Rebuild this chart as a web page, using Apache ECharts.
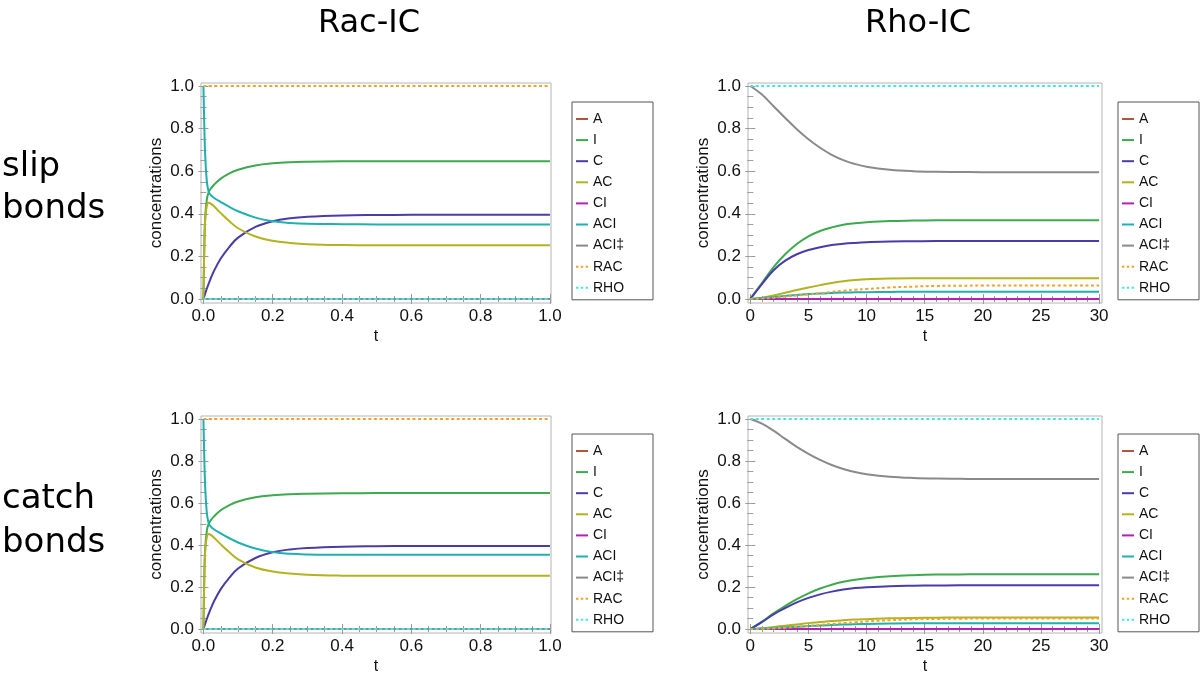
<!DOCTYPE html>
<html><head><meta charset="utf-8">
<script src="https://cdn.jsdelivr.net/npm/echarts@6/dist/echarts.min.js"></script>
<style>html,body{margin:0;padding:0;background:#fff}#c{width:1200px;height:676px}</style>
</head><body><div id="c"></div><script>
// ---- data ----
const seriesNames = ['A','I','C','AC','CI','ACI','ACI\u2021','RAC','RHO'];
const seriesColors = ['#b0563a','#3daa4e','#4a3ca8','#b4b21e','#b521b5','#1fb0b0','#8a8a8a','#f2a42a','#44e6e6'];
const dottedNames = ['RAC','RHO'];

const colTitles = ['Rac-IC','Rho-IC'];
const rowTitles = ['slip\nbonds','catch\nbonds'];

// Rac-IC time samples (t in 0..1)
const tRac = [0,0.002,0.005,0.01,0.015,0.02,0.03,0.05,0.075,0.1,0.15,0.2,0.25,0.3,0.4,0.5,0.6,0.8,1.0];
const tRacFlat = [0,1];
// Rho-IC time samples (t in 0..30)
const tRho = [0,1,2,3,4,5,6,7,8,9,10,12,14,16,18,20,25,30];
const tRhoFlat = [0,30];
const flatZero = [0,0];
const flatOne = [1,1];

// Rac-IC, slip bonds
const racSlipI   = [0,0.2,0.38,0.47,0.5,0.515,0.535,0.565,0.59,0.607,0.627,0.637,0.642,0.644,0.646,0.647,0.647,0.647,0.647];
const racSlipC   = [0,0.01,0.025,0.049,0.071,0.092,0.13,0.19,0.245,0.288,0.338,0.365,0.379,0.386,0.392,0.394,0.395,0.395,0.395];
const racSlipAC  = [0,0.2,0.37,0.44,0.452,0.449,0.436,0.403,0.365,0.332,0.293,0.273,0.263,0.257,0.253,0.252,0.252,0.252,0.252];
const racSlipACI = [1,0.85,0.68,0.55,0.505,0.49,0.475,0.455,0.432,0.412,0.382,0.365,0.357,0.353,0.351,0.35,0.35,0.35,0.35];
// Rac-IC, catch bonds
const racCatchI   = [0,0.2,0.38,0.47,0.5,0.515,0.535,0.565,0.59,0.607,0.627,0.637,0.642,0.644,0.646,0.647,0.647,0.647,0.647];
const racCatchC   = [0,0.01,0.025,0.049,0.071,0.092,0.13,0.19,0.245,0.288,0.338,0.365,0.379,0.386,0.392,0.394,0.395,0.395,0.395];
const racCatchAC  = [0,0.2,0.37,0.44,0.452,0.449,0.436,0.403,0.365,0.332,0.293,0.274,0.264,0.258,0.254,0.253,0.253,0.253,0.253];
const racCatchACI = [1,0.85,0.68,0.55,0.505,0.49,0.475,0.455,0.432,0.412,0.383,0.366,0.358,0.355,0.353,0.353,0.353,0.353,0.353];

// Rho-IC, slip bonds
const rhoSlipI    = [0,0.075,0.15,0.21,0.258,0.294,0.319,0.336,0.348,0.355,0.36,0.366,0.368,0.369,0.37,0.37,0.37,0.37];
const rhoSlipC    = [0,0.07,0.135,0.18,0.21,0.23,0.243,0.253,0.259,0.263,0.266,0.27,0.271,0.272,0.272,0.272,0.272,0.272];
const rhoSlipAC   = [0,0.006,0.016,0.029,0.042,0.054,0.065,0.075,0.083,0.089,0.093,0.096,0.097,0.097,0.097,0.097,0.097,0.097];
const rhoSlipACI  = [0,0.004,0.009,0.014,0.019,0.023,0.026,0.028,0.03,0.031,0.032,0.033,0.034,0.034,0.034,0.034,0.034,0.034];
const rhoSlipACId = [1,0.96,0.905,0.85,0.797,0.75,0.71,0.677,0.652,0.634,0.621,0.607,0.6,0.597,0.596,0.595,0.595,0.595];
const rhoSlipRAC  = [0,0.002,0.006,0.011,0.016,0.021,0.027,0.033,0.038,0.043,0.047,0.054,0.058,0.061,0.062,0.063,0.063,0.063];
// Rho-IC, catch bonds
const rhoCatchI    = [0,0.035,0.075,0.11,0.142,0.17,0.193,0.211,0.225,0.235,0.242,0.251,0.256,0.259,0.26,0.261,0.261,0.261];
const rhoCatchC    = [0,0.033,0.07,0.1,0.127,0.148,0.165,0.178,0.188,0.195,0.199,0.204,0.206,0.207,0.208,0.208,0.208,0.208];
const rhoCatchAC   = [0,0.004,0.01,0.016,0.022,0.028,0.033,0.038,0.042,0.045,0.047,0.051,0.053,0.054,0.055,0.055,0.055,0.055];
const rhoCatchACI  = [0,0.002,0.005,0.008,0.011,0.014,0.017,0.019,0.021,0.023,0.024,0.026,0.027,0.027,0.027,0.027,0.027,0.027];
const rhoCatchACId = [1,0.978,0.944,0.905,0.867,0.834,0.805,0.781,0.762,0.747,0.737,0.725,0.719,0.716,0.715,0.714,0.714,0.714];
const rhoCatchRAC  = [0,0.001,0.003,0.006,0.01,0.014,0.019,0.024,0.028,0.032,0.036,0.042,0.046,0.048,0.049,0.05,0.05,0.05];

// tick labels
const yMajorTicks = [0,0.2,0.4,0.6,0.8,1.0];
const yMinorTicks = [0.05,0.1,0.15,0.25,0.3,0.35,0.45,0.5,0.55,0.65,0.7,0.75,0.85,0.9,0.95];
const xRacMajorTicks = [0,0.2,0.4,0.6,0.8,1.0];
const xRacMinorTicks = [0.05,0.1,0.15,0.25,0.3,0.35,0.45,0.5,0.55,0.65,0.7,0.75,0.85,0.9,0.95];
const xRhoMajorTicks = [0,5,10,15,20,25,30];
const xRhoMinorTicks = [1,2,3,4,6,7,8,9,11,12,13,14,16,17,18,19,21,22,23,24,26,27,28,29];

// ---- build ----
const zip = (xs, ys) => xs.map((x, i) => [x, ys[i]]);

const panels = [
  { grid:{left:201, top:83, width:350, height:220}, xmin:-0.007, xmax:1.003, xMaj:xRacMajorTicks, xMin:xRacMinorTicks, xDec:1,
    legend:{left:572, top:102},
    data:{ 'A':zip(tRacFlat,flatZero), 'I':zip(tRac,racSlipI), 'C':zip(tRac,racSlipC), 'AC':zip(tRac,racSlipAC),
           'CI':zip(tRacFlat,flatZero), 'ACI':zip(tRac,racSlipACI), 'ACI\u2021':zip(tRacFlat,flatZero),
           'RAC':zip(tRacFlat,flatOne), 'RHO':zip(tRacFlat,flatZero) } },
  { grid:{left:748, top:83, width:354, height:220}, xmin:-0.2, xmax:30.25, xMaj:xRhoMajorTicks, xMin:xRhoMinorTicks, xDec:0,
    legend:{left:1118, top:102},
    data:{ 'A':zip(tRhoFlat,flatZero), 'I':zip(tRho,rhoSlipI), 'C':zip(tRho,rhoSlipC), 'AC':zip(tRho,rhoSlipAC),
           'CI':zip(tRhoFlat,flatZero), 'ACI':zip(tRho,rhoSlipACI), 'ACI\u2021':zip(tRho,rhoSlipACId),
           'RAC':zip(tRho,rhoSlipRAC), 'RHO':zip(tRhoFlat,flatOne) } },
  { grid:{left:201, top:416, width:350, height:220}, xmin:-0.007, xmax:1.003, xMaj:xRacMajorTicks, xMin:xRacMinorTicks, xDec:1,
    legend:{left:572, top:434},
    data:{ 'A':zip(tRacFlat,flatZero), 'I':zip(tRac,racCatchI), 'C':zip(tRac,racCatchC), 'AC':zip(tRac,racCatchAC),
           'CI':zip(tRacFlat,flatZero), 'ACI':zip(tRac,racCatchACI), 'ACI\u2021':zip(tRacFlat,flatZero),
           'RAC':zip(tRacFlat,flatOne), 'RHO':zip(tRacFlat,flatZero) } },
  { grid:{left:748, top:416, width:354, height:220}, xmin:-0.2, xmax:30.25, xMaj:xRhoMajorTicks, xMin:xRhoMinorTicks, xDec:0,
    legend:{left:1118, top:434},
    data:{ 'A':zip(tRhoFlat,flatZero), 'I':zip(tRho,rhoCatchI), 'C':zip(tRho,rhoCatchC), 'AC':zip(tRho,rhoCatchAC),
           'CI':zip(tRhoFlat,flatZero), 'ACI':zip(tRho,rhoCatchACI), 'ACI\u2021':zip(tRho,rhoCatchACId),
           'RAC':zip(tRho,rhoCatchRAC), 'RHO':zip(tRhoFlat,flatOne) } }
];

const frameColor = '#b4b4b4';
const tickColor = '#9a9a9a';
const labelFont = 'Liberation Sans, Arial, sans-serif';
const solidIcon = 'path://M0,0h12v2h-12z';
const dottedIcon = 'path://M0,0h2.4v2h-2.4zM4.8,0h2.4v2h-2.4zM9.6,0h2.4v2h-2.4z';

const grids = [], xAxes = [], yAxes = [], series = [], legends = [];

panels.forEach((p, gi) => {
  grids.push(Object.assign({ show:true, borderColor:frameColor, borderWidth:1, backgroundColor:'#fff' }, p.grid));
  const xBase = { type:'value', gridIndex:gi, min:p.xmin, max:p.xmax, splitLine:{show:false}, axisLine:{show:false} };
  const yBase = { type:'value', gridIndex:gi, min:-0.019, max:1.014, splitLine:{show:false}, axisLine:{show:false} };
  const xi = xAxes.length, yi = yAxes.length;
  xAxes.push(Object.assign({}, xBase, { position:'bottom',
    name:'t', nameLocation:'middle', nameGap:26, nameTextStyle:{color:'#111', fontSize:16, fontFamily:labelFont},
    axisTick:{show:true, inside:true, length:5, customValues:p.xMaj, lineStyle:{color:tickColor}},
    axisLabel:{show:true, customValues:p.xMaj, margin:5, color:'#111', fontSize:17, fontFamily:labelFont,
      formatter:(v)=>Number(v).toFixed(p.xDec)} }));
  xAxes.push(Object.assign({}, xBase, { position:'bottom',
    axisTick:{show:true, inside:true, length:3, customValues:p.xMin, lineStyle:{color:tickColor}}, axisLabel:{show:false} }));
  xAxes.push(Object.assign({}, xBase, { position:'top',
    axisTick:{show:true, inside:true, length:5, customValues:p.xMaj, lineStyle:{color:tickColor}}, axisLabel:{show:false} }));
  xAxes.push(Object.assign({}, xBase, { position:'top',
    axisTick:{show:true, inside:true, length:3, customValues:p.xMin, lineStyle:{color:tickColor}}, axisLabel:{show:false} }));
  yAxes.push(Object.assign({}, yBase, { position:'left',
    name:'concentrations', nameLocation:'middle', nameGap:36, nameRotate:90,
    nameTextStyle:{color:'#111', fontSize:17, fontFamily:labelFont},
    axisTick:{show:true, inside:true, length:5, customValues:yMajorTicks, lineStyle:{color:tickColor}},
    axisLabel:{show:true, customValues:yMajorTicks, margin:7, color:'#111', fontSize:17, fontFamily:labelFont,
      formatter:(v)=>Number(v).toFixed(1)} }));
  yAxes.push(Object.assign({}, yBase, { position:'left',
    axisTick:{show:true, inside:true, length:3, customValues:yMinorTicks, lineStyle:{color:tickColor}}, axisLabel:{show:false} }));
  yAxes.push(Object.assign({}, yBase, { position:'right',
    axisTick:{show:true, inside:true, length:5, customValues:yMajorTicks, lineStyle:{color:tickColor}}, axisLabel:{show:false} }));
  yAxes.push(Object.assign({}, yBase, { position:'right',
    axisTick:{show:true, inside:true, length:3, customValues:yMinorTicks, lineStyle:{color:tickColor}}, axisLabel:{show:false} }));

  seriesNames.forEach((nm, si) => {
    const dotted = dottedNames.includes(nm);
    series.push({
      type:'line', name:nm, xAxisIndex:xi, yAxisIndex:yi, data:p.data[nm],
      showSymbol:false, symbol:'none', smooth:0.4, clip:false, animation:false,
      color:seriesColors[si],
      lineStyle:{ color:seriesColors[si], width:2, type: dotted ? [3,2.5] : 'solid' },
      z: 2 + si
    });
  });

  legends.push({
    left:p.legend.left, top:p.legend.top, orient:'vertical', align:'left',
    data:seriesNames.map((nm) => ({ name:nm, icon: dottedNames.includes(nm) ? dottedIcon : solidIcon })),
    itemWidth:12, itemHeight:2, itemGap:7.1, selectedMode:false,
    padding:[10, 22, 5, 4], borderColor:'#555', borderWidth:1, backgroundColor:'#fff',
    textStyle:{color:'#111', fontSize:14, fontFamily:labelFont, lineHeight:14, width:38}
  });
});

const titleFont = 'DejaVu Sans, sans-serif';
const titles = [
  { text:colTitles[0], left:364, top:3, textAlign:'center', textStyle:{fontSize:32, fontWeight:'normal', color:'#000', fontFamily:titleFont} },
  { text:colTitles[1], left:913, top:3, textAlign:'center', textStyle:{fontSize:32, fontWeight:'normal', color:'#000', fontFamily:titleFont} },
  { text:rowTitles[0], left:-3, top:141, textStyle:{fontSize:34, fontWeight:'normal', color:'#000', fontFamily:titleFont, lineHeight:42} },
  { text:rowTitles[1], left:-3, top:472, textStyle:{fontSize:34, fontWeight:'normal', color:'#000', fontFamily:titleFont, lineHeight:44} }
];

const chart = echarts.init(document.getElementById('c'), null, {renderer:'canvas'});
chart.setOption({
  backgroundColor:'#fff', animation:false,
  title:titles, grid:grids, xAxis:xAxes, yAxis:yAxes, series:series, legend:legends
});
</script></body></html>
